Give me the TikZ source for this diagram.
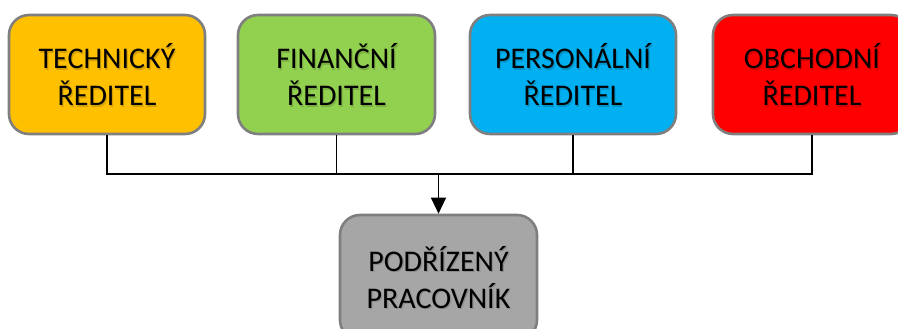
\documentclass[tikz,border=0pt]{standalone}
\usepackage{fontspec}
\setmainfont{Carlito}
\usetikzlibrary{arrows.meta}
\definecolor{techc}{HTML}{FFC000}
\definecolor{finc}{HTML}{92D050}
\definecolor{persc}{HTML}{00B0F0}
\definecolor{obchc}{HTML}{FF0000}
\definecolor{podc}{HTML}{A6A6A6}
\definecolor{edgec}{HTML}{7F7F7F}
\tikzset{
  role/.style={draw=edgec, line width=2.6pt, rounded corners=20pt,
    minimum height=119pt, inner sep=0pt},
  caption/.style={align=center, inner sep=0pt,
    font=\fontsize{30}{37}\selectfont},
  shade/.style={caption, text=black, text opacity=0.16},
  link/.style={line width=1.3pt, draw=black},
}
% box with a softly shadowed two-line caption
\newcommand\rolebox[5]{%
  \node[role, fill=#4, minimum width=#3] (#1) at #2 {};
  \node[shade] at ([shift={(1.2,-1.5)}]#1.center) {#5};
  \node[caption] (#1-txt) at (#1.center) {#5};
}
\begin{document}
\begin{tikzpicture}[x=1pt,y=1pt]
  \useasboundingbox (0,0) rectangle (898,329);
  \clip (0,0) rectangle (898,329);
  % director boxes (y measured from the top edge)
  \rolebox{tech}{(107,329-74.5)}{196pt}{techc}{TECHNICKÝ\\ŘEDITEL}
  \rolebox{fin}{(336.5,329-74.5)}{197pt}{finc}{FINANČNÍ\\ŘEDITEL}
  \rolebox{pers}{(573,329-74.5)}{206pt}{persc}{PERSONÁLNÍ\\ŘEDITEL}
  \rolebox{obch}{(812,329-74.5)}{198pt}{obchc}{OBCHODNÍ\\ŘEDITEL}
  % subordinate
  \node[role, fill=podc, minimum width=197pt, minimum height=125pt] (pod) at (438.5,329-277.5) {};
  \node[shade] at ([shift={(1.2,-1.5)}]pod.center) {PODŘÍZENÝ\\PRACOVNÍK};
  \node[caption] (pod-txt) at (pod.center) {PODŘÍZENÝ\\PRACOVNÍK};
  % bus joining all directors
  \coordinate (j) at (438.5,329-174);
  \draw[link] (tech.south) |- (j) -| (obch.south);
  \draw[link] (fin.south) -- (fin.south |- j);
  \draw[link] (pers.south) -- (pers.south |- j);
  \draw[link, -{Triangle[width=15pt,length=16pt]}] (j) -- (pod.north);
\end{tikzpicture}
\end{document}
